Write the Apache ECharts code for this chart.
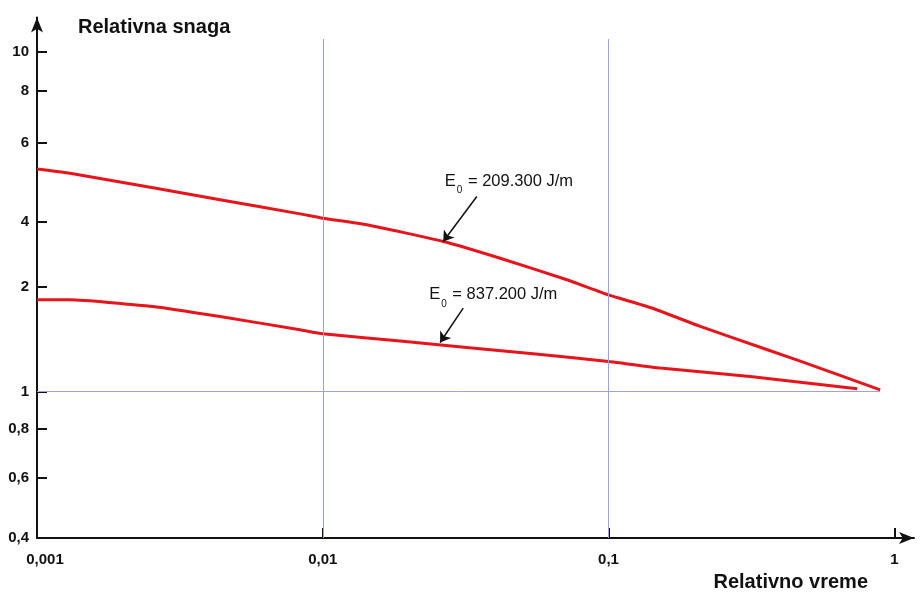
<!DOCTYPE html>
<html>
<head>
<meta charset="utf-8">
<script src="https://cdn.jsdelivr.net/npm/echarts@6/dist/echarts.min.js"></script>
<style>
html,body{margin:0;padding:0;background:#fff;}
#c{width:923px;height:594px;}
</style>
</head>
<body>
<div id="c"></div>
<script>
// ---- data ----
const timeUpper  = [0.001, 0.001304, 0.002547, 0.004369, 0.00833, 0.01, 0.01425, 0.02642, 0.04176, 0.07147, 0.1, 0.14, 0.2094, 0.2666, 0.4685, 0.8925];
const powerUpper = [5.35, 5.24, 4.87, 4.57, 4.21, 4.10, 3.92, 3.40, 2.88, 2.21, 1.92, 1.80, 1.62, 1.52, 1.29, 1.016];
const timeLower  = [0.001, 0.001304, 0.002547, 0.004369, 0.00833, 0.01, 0.01865, 0.05445, 0.1, 0.1516, 0.313, 0.7416];
const powerLower = [1.873, 1.873, 1.81, 1.714, 1.588, 1.55, 1.48, 1.359, 1.286, 1.223, 1.143, 1.026];
const energyUpper = '209.300 J/m';
const energyLower = '837.200 J/m';
// annotation arrows: [tailTime, tailPower, tipTime, tipPower]
const arrowUpper = [0.0346, 4.65, 0.0264, 3.40];
const arrowLower = [0.0310, 1.794, 0.02574, 1.467];
const referenceLevel = 1;
const referenceEnd = 0.8925;

const xTickValues = [0.001, 0.01, 0.1, 1];
const xTickLabels = ['0,001', '0,01', '0,1', '1'];
const yTickValues = [0.4, 0.6, 0.8, 1, 2, 4, 6, 8, 10];
const yTickLabels = ['0,4', '0,6', '0,8', '1', '2', '4', '6', '8', '10'];
const xName = 'Relativno vreme';
const yName = 'Relativna snaga';

// ---- scale of the printed (non-uniform) y axis: tick value -> axis units ----
const yTickStops = [0, 60.6, 109, 146.6, 251.6, 316, 395, 447.6, 486.6];
const yAxisTop = 520.8;
const gridLineTop = 499.3;
const xAxisMax = 1.172;

function toAxis(v) {
  const n = yTickValues.length;
  let i = 0;
  if (v <= yTickValues[0]) i = 0;
  else if (v >= yTickValues[n - 1]) i = n - 2;
  else { while (!(v >= yTickValues[i] && v <= yTickValues[i + 1])) i++; }
  const t = (v - yTickValues[i]) / (yTickValues[i + 1] - yTickValues[i]);
  return yTickStops[i] + t * (yTickStops[i + 1] - yTickStops[i]);
}

// ---- fonts ----
function hasFont(name) {
  const ctx = document.createElement('canvas').getContext('2d');
  ctx.font = '40px monospace';
  const a = ctx.measureText('Relativna snaga 0123').width;
  ctx.font = '40px "' + name + '", monospace';
  const b = ctx.measureText('Relativna snaga 0123').width;
  return Math.abs(a - b) > 0.5;
}
const narrow = hasFont('Liberation Sans Narrow');
const FONT = narrow ? '"Liberation Sans Narrow", "Liberation Sans", Arial, sans-serif' : '"Liberation Sans", Arial, sans-serif';
const SZ_NAME = narrow ? 24 : 20;
const SZ_TICK = narrow ? 18 : 15;
const SZ_ANN = narrow ? 20 : 16.5;
const SZ_SUB = narrow ? 12 : 10;

const RED = '#e8141b';
const BLUE = '#9ca2e2';
const INK = '#111111';

function annLabel(energy, dx, dy) {
  return {
    show: true,
    position: [dx, dy],
    formatter: '{e|E}{s|0}{t| = ' + energy + '}',
    rich: {
      e: { fontFamily: FONT, fontSize: SZ_ANN, color: INK, lineHeight: 22, verticalAlign: 'top' },
      t: { fontFamily: FONT, fontSize: SZ_ANN, color: INK, lineHeight: 22, verticalAlign: 'top' },
      s: { fontFamily: FONT, fontSize: SZ_SUB, color: INK, lineHeight: 12, verticalAlign: 'top', padding: [13, 1, 0, 1] }
    }
  };
}

function arrowLine(a) {
  return [[{ coord: [a[0], toAxis(a[1])] }, { coord: [a[2], toAxis(a[3])] }]];
}

const chart = echarts.init(document.getElementById('c'), null, { renderer: 'canvas' });

const option = {
  animation: false,
  backgroundColor: '#fff',
  grid: { left: 37, right: 9, top: 17.5, bottom: 55.7, containLabel: false },
  xAxis: {
    type: 'log',
    logBase: 10,
    min: xTickValues[0],
    max: xAxisMax,
    name: xName,
    nameLocation: 'end',
    nameGap: -46,
    nameTextStyle: {
      fontFamily: FONT, fontSize: SZ_NAME, fontWeight: 'bold', color: INK,
      align: 'right', verticalAlign: 'top', lineHeight: 24, padding: [32, 0, 0, 0]
    },
    axisLine: {
      show: true, onZero: false,
      symbol: ['none', 'arrow'], symbolSize: [9, 15],
      lineStyle: { color: INK, width: 2 }
    },
    axisTick: { show: true, inside: true, length: 10, customValues: xTickValues, lineStyle: { color: INK, width: 2 } },
    axisLabel: {
      show: true,
      customValues: xTickValues,
      margin: 12,
      fontFamily: FONT, fontSize: SZ_TICK, fontWeight: 'bold', color: INK, lineHeight: 19,
      formatter: function (v) {
        const idx = xTickValues.findIndex(t => Math.abs(Math.log10(t) - Math.log10(v)) < 1e-6);
        if (idx < 0) return '';
        return idx === 0 ? '{first|' + xTickLabels[idx] + '}' : xTickLabels[idx];
      },
      rich: {
        first: { fontFamily: FONT, fontSize: SZ_TICK, fontWeight: 'bold', color: INK, padding: [0, 0, 0, 16], lineHeight: 19 }
      }
    },
    splitLine: { show: false },
    minorTick: { show: false },
    minorSplitLine: { show: false }
  },
  yAxis: {
    type: 'value',
    min: 0,
    max: yAxisTop,
    name: yName,
    nameLocation: 'end',
    nameGap: 2,
    nameTextStyle: {
      fontFamily: FONT, fontSize: SZ_NAME, fontWeight: 'bold', color: INK,
      align: 'left', verticalAlign: 'top', lineHeight: 24, padding: [0, 0, 0, 41]
    },
    axisLine: {
      show: true, onZero: false,
      symbol: ['none', 'arrow'], symbolSize: [9, 15],
      lineStyle: { color: INK, width: 2 }
    },
    axisTick: { show: true, inside: true, length: 10, customValues: yTickStops, lineStyle: { color: INK, width: 2 } },
    axisLabel: {
      show: true,
      customValues: yTickStops,
      margin: 8,
      fontFamily: FONT, fontSize: SZ_TICK, fontWeight: 'bold', color: INK,
      formatter: function (v) {
        const idx = yTickStops.findIndex(s => Math.abs(s - v) < 0.01);
        return idx < 0 ? '' : yTickLabels[idx];
      }
    },
    splitLine: { show: false }
  },
  series: [
    {
      name: 'grid',
      type: 'line',
      data: [],
      silent: true,
      z: 1,
      markLine: {
        silent: true,
        symbol: ['none', 'none'],
        label: { show: false },
        emphasis: { disabled: true },
        lineStyle: { color: BLUE, width: 1, type: 'solid' },
        data: [
          [{ coord: [xTickValues[1], toAxis(yTickValues[0])] }, { coord: [xTickValues[1], gridLineTop] }],
          [{ coord: [xTickValues[2], toAxis(yTickValues[0])] }, { coord: [xTickValues[2], gridLineTop] }],
          [{ coord: [xTickValues[0], toAxis(referenceLevel)] }, { coord: [referenceEnd, toAxis(referenceLevel)] }]
        ]
      }
    },
    {
      name: 'E0 = ' + energyUpper,
      type: 'line',
      data: timeUpper.map((t, i) => [t, toAxis(powerUpper[i])]),
      showSymbol: false,
      symbol: 'none',
      smooth: 0.15,
      z: 3,
      lineStyle: { color: RED, width: 3 },
      markLine: {
        silent: true,
        symbol: ['none', 'arrow'],
        symbolSize: 10,
        label: { show: false },
        emphasis: { disabled: true },
        lineStyle: { color: INK, width: 1.5, type: 'solid' },
        data: arrowLine(arrowUpper)
      },
      markPoint: {
        silent: true,
        symbol: 'circle',
        symbolSize: 0,
        data: [{ coord: [arrowUpper[0], toAxis(arrowUpper[1])], label: annLabel(energyUpper, -32, -24) }]
      }
    },
    {
      name: 'E0 = ' + energyLower,
      type: 'line',
      data: timeLower.map((t, i) => [t, toAxis(powerLower[i])]),
      showSymbol: false,
      symbol: 'none',
      smooth: 0.15,
      z: 3,
      lineStyle: { color: RED, width: 3 },
      markLine: {
        silent: true,
        symbol: ['none', 'arrow'],
        symbolSize: 10,
        label: { show: false },
        emphasis: { disabled: true },
        lineStyle: { color: INK, width: 1.5, type: 'solid' },
        data: arrowLine(arrowLower)
      },
      markPoint: {
        silent: true,
        symbol: 'circle',
        symbolSize: 0,
        data: [{ coord: [arrowLower[0], toAxis(arrowLower[1])], label: annLabel(energyLower, -34, -22) }]
      }
    }
  ]
};
chart.setOption(option);
</script>
</body>
</html>
